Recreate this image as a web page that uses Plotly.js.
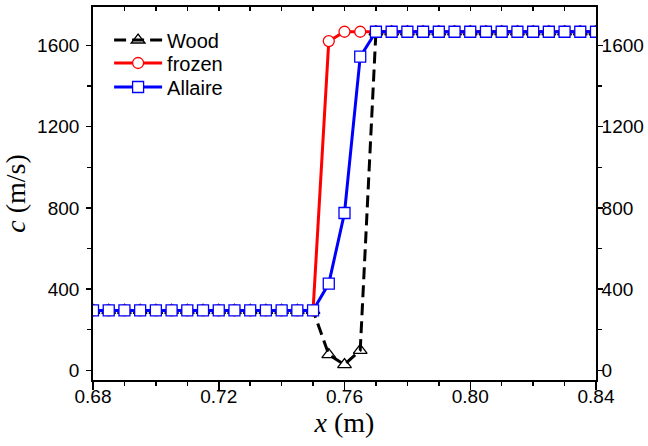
<!DOCTYPE html>
<html>
<head>
<meta charset="utf-8">
<script src="https://cdn.plot.ly/plotly-3.0.1.min.js"></script>
<style>html,body{margin:0;padding:0;background:#fff}#chart{width:648px;height:446px}</style>
</head>
<body>
<div id="chart"></div>
<script>
var xPos = [0.680,0.685,0.690,0.695,0.700,0.705,0.710,0.715,0.720,0.725,0.730,0.735,0.740,0.745,0.750,0.755,0.760,0.765,0.770,0.775,0.780,0.785,0.790,0.795,0.800,0.805,0.810,0.815,0.820,0.825,0.830,0.835,0.840];
var woodC = [295,295,295,295,295,295,295,295,295,295,295,295,295,295,295,77,28,98,1668,1668,1668,1668,1668,1668,1668,1668,1668,1668,1668,1668,1668,1668,1668];
var frozenC = [295,295,295,295,295,295,295,295,295,295,295,295,295,295,295,1622,1668,1668,1668,1668,1668,1668,1668,1668,1668,1668,1668,1668,1668,1668,1668,1668,1668];
var allaireC = [295,295,295,295,295,295,295,295,295,295,295,295,295,295,295,427,775,1545,1668,1668,1668,1668,1668,1668,1668,1668,1668,1668,1668,1668,1668,1668,1668];
var seriesNames = ['Wood','frozen','Allaire'];
var xTickVals = [0.68,0.72,0.76,0.80,0.84];
var xTickText = ['0.68','0.72','0.76','0.80','0.84'];
var yTickVals = [0,400,800,1200,1600];

var traces = [
  {x: xPos, y: woodC, name: seriesNames[0], mode: 'lines+markers', type: 'scatter', legend: 'legend',
   line: {color: '#000', width: 3, dash: '12px,6px'},
   marker: {symbol: 'triangle-up-open', size: 12, color: '#000', line: {width: 1.3, color: '#000'}}},
  {x: xPos, y: frozenC, name: seriesNames[1], mode: 'lines+markers', type: 'scatter', legend: 'legend2',
   line: {color: '#ff0000', width: 3},
   marker: {symbol: 'circle', size: 11, color: '#fff', line: {width: 1.3, color: '#ff0000'}}},
  {x: xPos, y: allaireC, name: seriesNames[2], mode: 'lines+markers', type: 'scatter', legend: 'legend3',
   line: {color: '#0000ff', width: 3},
   marker: {symbol: 'square', size: 11, color: '#fff', line: {width: 1.3, color: '#0000ff'}}},
  {x: [0.68, 0.84], y: [null, null], xaxis: 'x2', yaxis: 'y2', showlegend: false, hoverinfo: 'skip', mode: 'lines'}
];

var tickFont = {family: 'Liberation Sans, Arial, sans-serif', size: 19, color: '#000'};
var legFont = {family: 'Liberation Sans, Arial, sans-serif', size: 20, color: '#000'};
function leg(yc) {
  return {x: 0.032, y: yc, xanchor: 'left', yanchor: 'middle', bgcolor: 'rgba(0,0,0,0)', borderwidth: 0,
          font: legFont, itemwidth: 48};
}
var layout = {
  width: 648, height: 446,
  margin: {l: 93, r: 52, t: 7, b: 66},
  paper_bgcolor: '#fff', plot_bgcolor: '#fff',
  showlegend: true,
  legend: leg(0.9115),
  legend2: leg(0.8499),
  legend3: leg(0.7855),
  xaxis: {range: [0.68, 0.84], showgrid: false, zeroline: false, showline: true, linecolor: '#000', linewidth: 1.8,
          tickmode: 'array', tickvals: xTickVals, ticktext: xTickText, ticks: 'outside', ticklen: 8, tickwidth: 1.5, tickcolor: '#000',
          minor: {dtick: 0.01, ticks: 'outside', ticklen: 4, tickwidth: 1.5, tickcolor: '#000', showgrid: false},
          tickfont: tickFont, ticklabelstandoff: -10,
          title: {text: '<i>x</i> (m)', font: {family: 'Liberation Serif, Times New Roman, serif', size: 28, color: '#000'}, standoff: 2}},
  xaxis2: {range: [0.68, 0.84], overlaying: 'x', side: 'top', anchor: 'y', showgrid: false, zeroline: false, showline: true,
           linecolor: '#000', linewidth: 1.8, dtick: 0.01, tick0: 0.68, ticks: 'inside', ticklen: 4, tickwidth: 1.5, tickcolor: '#000',
           showticklabels: false},
  yaxis: {range: [-48, 1790], showgrid: false, zeroline: false, showline: true, linecolor: '#000', linewidth: 1.8,
          tickmode: 'array', tickvals: yTickVals, ticks: 'outside', ticklen: 5, tickwidth: 1.5, tickcolor: '#000',
          minor: {dtick: 200, tick0: 0, ticks: 'outside', ticklen: 4, tickwidth: 1.5, tickcolor: '#000', showgrid: false},
          tickfont: tickFont, ticklabelstandoff: 3,
          title: {text: '<i>c</i> (m/s)', font: {family: 'Liberation Serif, Times New Roman, serif', size: 28, color: '#000'}, standoff: 6}},
  yaxis2: {range: [-48, 1790], overlaying: 'y', side: 'right', anchor: 'x', showgrid: false, zeroline: false, showline: true,
           linecolor: '#000', linewidth: 1.8, tickmode: 'array', tickvals: yTickVals, ticks: 'outside', ticklen: 5, tickwidth: 1.5,
           tickcolor: '#000', minor: {dtick: 200, tick0: 0, ticks: 'outside', ticklen: 4, tickwidth: 1.5, tickcolor: '#000', showgrid: false},
           tickfont: tickFont, ticklabelstandoff: -5}
};

Plotly.newPlot('chart', traces, layout, {displayModeBar: false, staticPlot: true});
</script>
</body>
</html>
